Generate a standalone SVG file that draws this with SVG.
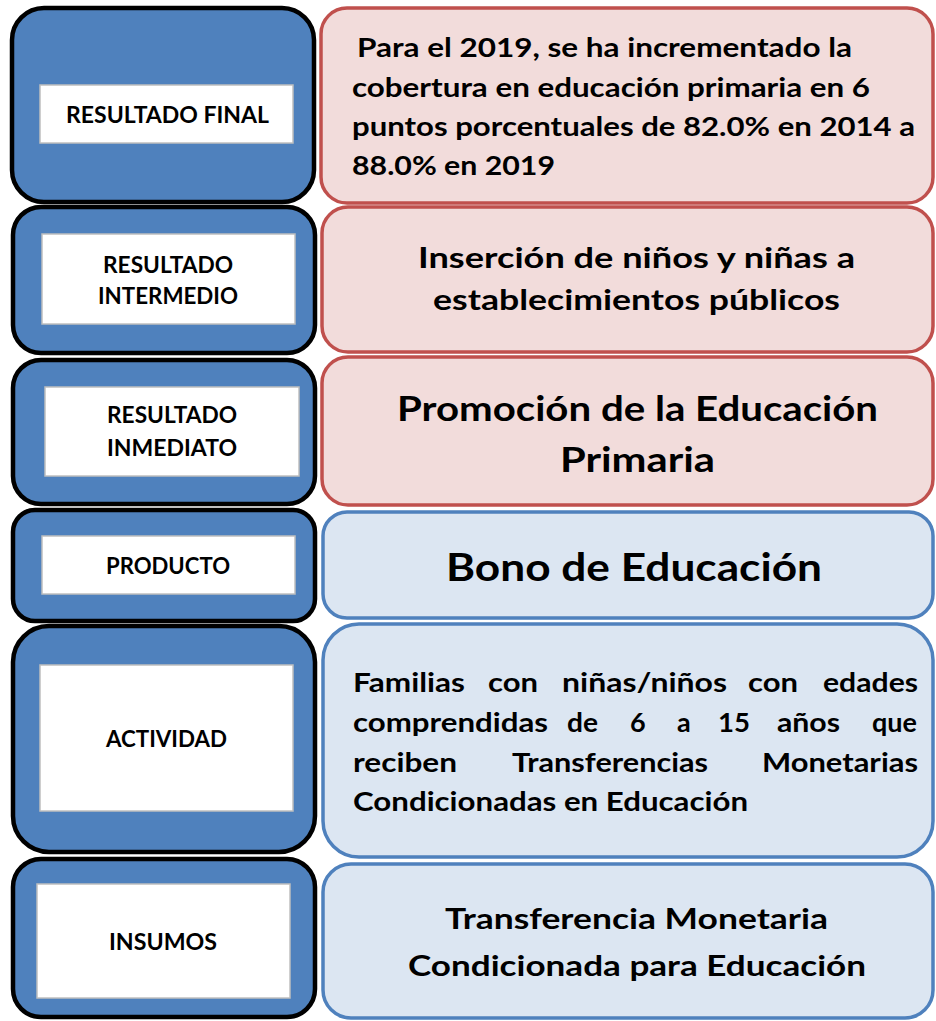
<svg xmlns="http://www.w3.org/2000/svg" width="936" height="1021" viewBox="0 0 936 1021">
<style>
.lb{fill:#4F81BD;stroke:#000;stroke-width:4.5}
.wb{fill:#fff;stroke:#BFBFBF;stroke-width:1.5}
.pk{fill:#F2DCDB;stroke:#C0504D;stroke-width:3.5}
.bl{fill:#DCE6F2;stroke:#4F81BD;stroke-width:3.5}
text{font-family:Lato,"Liberation Sans",sans-serif;font-weight:700;fill:#000}
.lab{font-size:22px}
.t1{font-size:27px}
.t2{font-size:29px}
.t3{font-size:35px}
.t4{font-size:39px}
.t5{font-size:27px}
.t6{font-size:28px}
</style>
<rect width="936" height="1021" fill="#fff"/>
<g id="connectors"></g>
<g id="label-resultado-final">
<rect class="lb" x="12" y="8" width="302" height="194" rx="32"/>
<rect class="wb" x="40" y="85" width="253" height="58"/>
<text class="lab" x="66" y="123" textLength="203" lengthAdjust="spacingAndGlyphs">RESULTADO FINAL</text>
</g>
<g id="label-resultado-intermedio">
<rect class="lb" x="13" y="207" width="302" height="146" rx="28"/>
<rect class="wb" x="42" y="234" width="253" height="90"/>
<text class="lab" x="103" y="273" textLength="130" lengthAdjust="spacingAndGlyphs">RESULTADO</text>
<text class="lab" x="98" y="304" textLength="140" lengthAdjust="spacingAndGlyphs">INTERMEDIO</text>
</g>
<g id="label-resultado-inmediato">
<rect class="lb" x="13" y="360" width="302" height="144" rx="28"/>
<rect class="wb" x="45" y="387" width="254" height="89"/>
<text class="lab" x="107" y="423" textLength="130" lengthAdjust="spacingAndGlyphs">RESULTADO</text>
<text class="lab" x="107" y="456" textLength="130" lengthAdjust="spacingAndGlyphs">INMEDIATO</text>
</g>
<g id="label-producto">
<rect class="lb" x="13" y="510" width="302" height="111" rx="22"/>
<rect class="wb" x="42" y="536" width="253" height="58"/>
<text class="lab" x="106" y="574" textLength="124" lengthAdjust="spacingAndGlyphs">PRODUCTO</text>
</g>
<g id="label-actividad">
<rect class="lb" x="13" y="626" width="302" height="226" rx="36"/>
<rect class="wb" x="40" y="665" width="253" height="146"/>
<text class="lab" x="106" y="747" textLength="121" lengthAdjust="spacingAndGlyphs">ACTIVIDAD</text>
</g>
<g id="label-insumos">
<rect class="lb" x="13" y="859" width="302" height="158" rx="28"/>
<rect class="wb" x="37" y="884" width="253" height="114"/>
<text class="lab" x="109" y="950" textLength="108" lengthAdjust="spacingAndGlyphs">INSUMOS</text>
</g>
<g id="box-resultado-final">
<rect class="pk" x="321" y="8" width="612" height="195" rx="26"/>
<text class="t1" x="357" y="57" textLength="495" lengthAdjust="spacingAndGlyphs">Para el 2019, se ha incrementado la</text>
<text class="t1" x="352" y="97" textLength="518" lengthAdjust="spacingAndGlyphs">cobertura en educación primaria en 6</text>
<text class="t1" x="352" y="136" textLength="563" lengthAdjust="spacingAndGlyphs">puntos porcentuales de 82.0% en 2014 a</text>
<text class="t1" x="352" y="175" textLength="203" lengthAdjust="spacingAndGlyphs">88.0% en 2019</text>
</g>
<g id="box-resultado-intermedio">
<rect class="pk" x="322" y="207" width="611" height="145" rx="26"/>
<text class="t2" x="418" y="268" textLength="437" lengthAdjust="spacingAndGlyphs">Inserción de niños y niñas a</text>
<text class="t2" x="433" y="310" textLength="407" lengthAdjust="spacingAndGlyphs">establecimientos públicos</text>
</g>
<g id="box-resultado-inmediato">
<rect class="pk" x="322" y="357" width="611" height="148" rx="26"/>
<text class="t3" x="397" y="421" textLength="481" lengthAdjust="spacingAndGlyphs">Promoción de la Educación</text>
<text class="t3" x="560" y="472" textLength="155" lengthAdjust="spacingAndGlyphs">Primaria</text>
</g>
<g id="box-producto">
<rect class="bl" x="323" y="512" width="610" height="106" rx="24"/>
<text class="t4" x="446" y="581" textLength="376" lengthAdjust="spacingAndGlyphs">Bono de Educación</text>
</g>
<g id="box-actividad">
<rect class="bl" x="323" y="624" width="610" height="233" rx="36"/>
<text class="t5" x="353" y="692" textLength="112" lengthAdjust="spacingAndGlyphs">Familias</text>
<text class="t5" x="488" y="692" textLength="50" lengthAdjust="spacingAndGlyphs">con</text>
<text class="t5" x="562" y="692" textLength="165" lengthAdjust="spacingAndGlyphs">niñas/niños</text>
<text class="t5" x="748" y="692" textLength="50" lengthAdjust="spacingAndGlyphs">con</text>
<text class="t5" x="823" y="692" textLength="95" lengthAdjust="spacingAndGlyphs">edades</text>
<text class="t5" x="353" y="732" textLength="195" lengthAdjust="spacingAndGlyphs">comprendidas</text>
<text class="t5" x="567" y="732" textLength="31" lengthAdjust="spacingAndGlyphs">de</text>
<text class="t5" x="630" y="732">6</text>
<text class="t5" x="677" y="732">a</text>
<text class="t5" x="718" y="732" textLength="32" lengthAdjust="spacingAndGlyphs">15</text>
<text class="t5" x="777" y="732" textLength="63" lengthAdjust="spacingAndGlyphs">años</text>
<text class="t5" x="917" y="732" text-anchor="end">que</text>
<text class="t5" x="353" y="772" textLength="104" lengthAdjust="spacingAndGlyphs">reciben</text>
<text class="t5" x="512" y="772" textLength="196" lengthAdjust="spacingAndGlyphs">Transferencias</text>
<text class="t5" x="762" y="772" textLength="156" lengthAdjust="spacingAndGlyphs">Monetarias</text>
<text class="t5" x="353" y="811" textLength="395" lengthAdjust="spacingAndGlyphs">Condicionadas en Educación</text>
</g>
<g id="box-insumos">
<rect class="bl" x="323" y="864" width="610" height="154" rx="28"/>
<text class="t6" x="445" y="929" textLength="383" lengthAdjust="spacingAndGlyphs">Transferencia Monetaria</text>
<text class="t6" x="408" y="976" textLength="458" lengthAdjust="spacingAndGlyphs">Condicionada para Educación</text>
</g>
</svg>
